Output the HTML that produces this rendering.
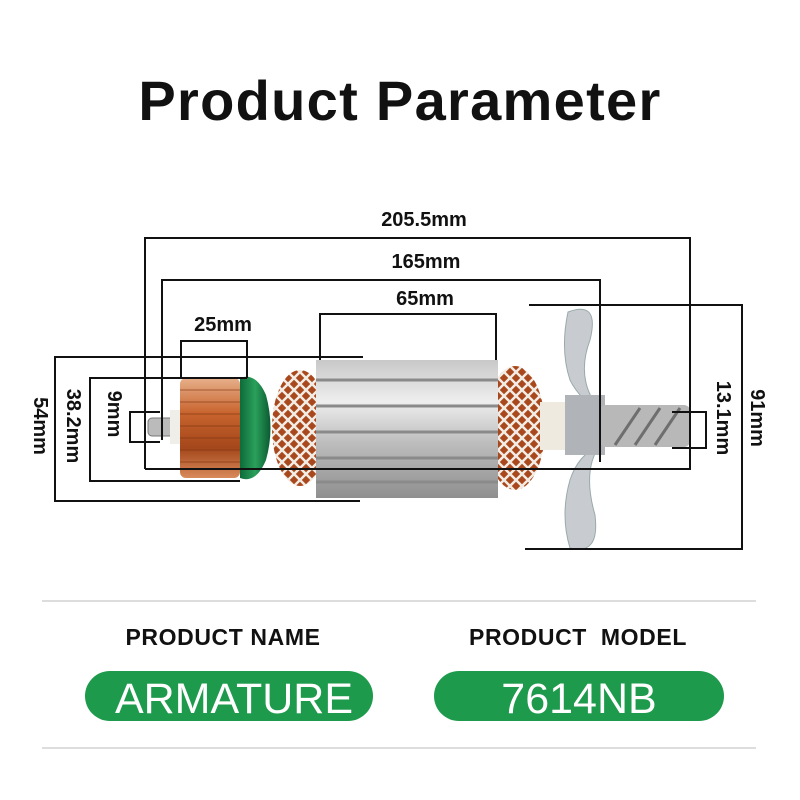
<!DOCTYPE html>
<html><head><meta charset="utf-8"><style>
body{margin:0;background:#fff;}
.w{position:relative;width:800px;height:800px;overflow:hidden;font-family:"Liberation Sans",sans-serif;}
</style></head><body><div class="w">
<svg width="800" height="800" viewBox="0 0 800 800" xmlns="http://www.w3.org/2000/svg" style="position:absolute;left:0;top:0">
<defs>
<linearGradient id="cu" x1="0" y1="0" x2="0" y2="1">
<stop offset="0" stop-color="#e7b08a"/><stop offset="0.35" stop-color="#c8642e"/><stop offset="0.7" stop-color="#a4471b"/><stop offset="1" stop-color="#d88a5a"/></linearGradient>
<linearGradient id="st" x1="0" y1="0" x2="0" y2="1">
<stop offset="0" stop-color="#c8c8c8"/><stop offset="0.3" stop-color="#eeeeee"/><stop offset="0.6" stop-color="#bdbdbd"/><stop offset="1" stop-color="#8f8f8f"/></linearGradient>
<linearGradient id="gr" x1="0" y1="0" x2="1" y2="0">
<stop offset="0" stop-color="#0d6b3a"/><stop offset="0.5" stop-color="#2aa05b"/><stop offset="1" stop-color="#0b5a30"/></linearGradient>
<pattern id="wind" width="12" height="12" patternUnits="userSpaceOnUse">
<rect width="12" height="12" fill="#a9481c"/>
<path d="M0 0 L12 12 M12 0 L0 12" stroke="#f2ece4" stroke-width="2.5"/>
</pattern>
</defs>
<text x="400" y="120" text-anchor="middle" font-size="56" font-weight="bold" fill="#111" letter-spacing="1.3">Product Parameter</text>

<rect x="148" y="418" width="30" height="18" rx="4" fill="#bbb" stroke="#777"/>
<rect x="170" y="410" width="20" height="34" fill="#f0eee8"/>
<rect x="180" y="378" width="60" height="100" rx="6" fill="url(#cu)"/>
<g stroke="#7a3210" stroke-width="1" opacity="0.6">
<line x1="180" y1="390" x2="240" y2="390"/><line x1="180" y1="402" x2="240" y2="402"/><line x1="180" y1="414" x2="240" y2="414"/><line x1="180" y1="426" x2="240" y2="426"/><line x1="180" y1="438" x2="240" y2="438"/><line x1="180" y1="450" x2="240" y2="450"/><line x1="180" y1="462" x2="240" y2="462"/></g>
<path d="M240 378 Q256 372 266 395 Q275 428 266 460 Q256 484 240 478 Z" fill="url(#gr)"/>
<ellipse cx="300" cy="428" rx="28" ry="58" fill="url(#wind)"/>
<ellipse cx="515" cy="428" rx="30" ry="62" fill="url(#wind)"/>
<rect x="316" y="360" width="182" height="138" fill="url(#st)"/>
<g stroke="#8a8a8a" stroke-width="3">
<line x1="316" y1="380" x2="498" y2="380"/><line x1="316" y1="406" x2="498" y2="406"/><line x1="316" y1="432" x2="498" y2="432"/><line x1="316" y1="458" x2="498" y2="458"/><line x1="316" y1="482" x2="498" y2="482"/></g>
<rect x="540" y="402" width="30" height="48" fill="#eeeae0"/>
<path d="M568 312 Q600 300 590 340 Q575 380 600 410 Q580 400 570 380 Q560 350 568 312Z" fill="#c8ccd0" stroke="#9aa"/>
<path d="M570 548 Q600 556 595 515 Q582 470 600 445 Q578 455 570 480 Q560 515 570 548Z" fill="#c8ccd0" stroke="#9aa"/>
<rect x="565" y="395" width="40" height="60" fill="#b0b4b8"/>
<rect x="600" y="405" width="90" height="42" rx="6" fill="#b8b8b8"/>
<g stroke="#6e6e6e" stroke-width="3"><line x1="615" y1="445" x2="640" y2="408"/><line x1="635" y1="445" x2="660" y2="408"/><line x1="655" y1="445" x2="680" y2="408"/></g>

<g stroke="#111" stroke-width="2" fill="none">
<path d="M145 469 V238 H690 V469 H145"/>
<path d="M162 440 V280 H600 V462"/>
<path d="M320 360 V314 H496 V360"/>
<path d="M181 378 V341 H247 V378"/>
<path d="M363 357 H55 V501 H360"/>
<path d="M247 378 H90 V481 H240"/>
<path d="M160 412 H130 V442 H160"/>
<path d="M529 305 H742 V549 H525"/>
<path d="M672 412 H706 V448 H672"/>
</g>
<g font-weight="bold" font-size="20" fill="#111" text-anchor="middle">
<text x="424" y="226">205.5mm</text>
<text x="426" y="268">165mm</text>
<text x="425" y="305">65mm</text>
<text x="223" y="331">25mm</text>
<text transform="translate(34,426) rotate(90)">54mm</text>
<text transform="translate(67,426) rotate(90)">38.2mm</text>
<text transform="translate(108,414) rotate(90)">9mm</text>
<text transform="translate(717,418) rotate(90)">13.1mm</text>
<text transform="translate(751,418) rotate(90)">91mm</text>
</g>

<line x1="42" y1="601" x2="756" y2="601" stroke="#bbb" stroke-width="1"/>
<line x1="42" y1="748" x2="756" y2="748" stroke="#bbb" stroke-width="1"/>
<text x="223" y="645" text-anchor="middle" font-size="23" font-weight="bold" fill="#111" letter-spacing="0.6">PRODUCT NAME</text>
<text x="578" y="645" text-anchor="middle" font-size="23" font-weight="bold" fill="#111" letter-spacing="0.6" xml:space="preserve">PRODUCT  MODEL</text>
<rect x="85" y="671" width="288" height="50" rx="25" fill="#1d9a4b"/>
<rect x="434" y="671" width="290" height="50" rx="25" fill="#1d9a4b"/>
<text x="234" y="713" text-anchor="middle" font-size="43" fill="#fff">ARMATURE</text>
<text x="579" y="713" text-anchor="middle" font-size="43" fill="#fff">7614NB</text>
</svg>
</div></body></html>
